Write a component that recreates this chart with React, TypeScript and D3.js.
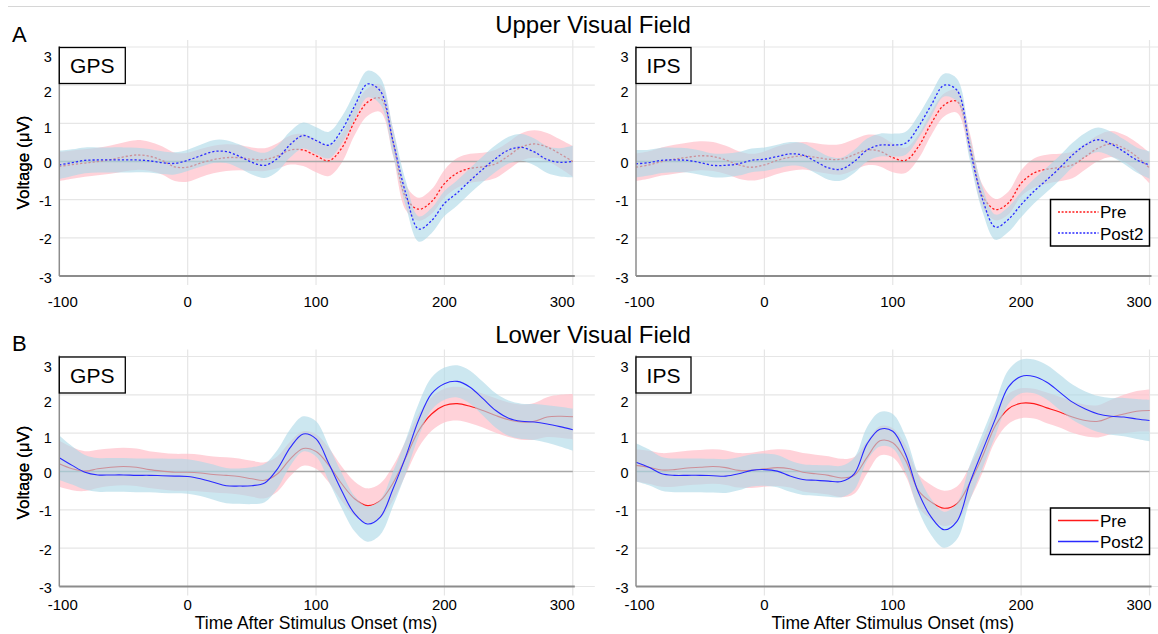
import React from "react";
import * as d3 from "d3";

// Sample times (ms after stimulus onset)
const TIMES = [
  -100, -90, -80, -70, -60, -50, -40, -30, -20, -10, 0, 10, 20, 30, 40, 50, 60, 70, 80, 90, 100,
  110, 120, 130, 140, 150, 160, 170, 180, 190, 200, 210, 220, 230, 240, 250, 260, 270, 280, 290, 300,
];
const X_TICKS = [-100, 0, 100, 200, 300];
const Y_TICKS = [-3, -2, -1, 0, 1, 2, 3];
const SERIES = ["Pre", "Post2"];

// Upper visual field, GPS
const UPPER_GPS_PRE = [-0.13, -0.08, -0.04, 0.0, 0.05, 0.12, 0.17, 0.14, 0.03, -0.14, -0.15, -0.04, 0.05, 0.1, 0.1, 0.06, 0.05, 0.15, 0.3, 0.3, 0.15, 0.02, 0.35, 1.05, 1.55, 1.66, 0.5, -0.95, -1.25, -1.05, -0.58, -0.3, -0.18, -0.14, -0.06, 0.15, 0.38, 0.46, 0.38, 0.2, 0.0];
const UPPER_GPS_PRE_SEM = [0.38, 0.37, 0.36, 0.36, 0.37, 0.38, 0.39, 0.38, 0.37, 0.37, 0.38, 0.37, 0.36, 0.35, 0.33, 0.31, 0.3, 0.33, 0.38, 0.42, 0.43, 0.4, 0.38, 0.36, 0.36, 0.36, 0.35, 0.33, 0.3, 0.32, 0.36, 0.39, 0.38, 0.37, 0.37, 0.36, 0.36, 0.36, 0.37, 0.38, 0.4];
const UPPER_GPS_POST2 = [-0.09, -0.03, 0.03, 0.04, 0.04, 0.04, 0.04, 0.02, -0.03, -0.05, 0.03, 0.15, 0.26, 0.26, 0.14, -0.02, -0.1, 0.08, 0.45, 0.68, 0.55, 0.43, 0.82, 1.45, 2.03, 1.85, 0.52, -0.85, -1.77, -1.55, -1.1, -0.82, -0.5, -0.2, 0.08, 0.3, 0.37, 0.25, 0.05, -0.02, 0.0];
const UPPER_GPS_POST2_SEM = [0.37, 0.35, 0.34, 0.33, 0.33, 0.33, 0.32, 0.31, 0.3, 0.29, 0.28, 0.29, 0.3, 0.3, 0.31, 0.32, 0.33, 0.34, 0.34, 0.34, 0.35, 0.35, 0.35, 0.35, 0.35, 0.35, 0.34, 0.33, 0.33, 0.33, 0.33, 0.33, 0.33, 0.34, 0.35, 0.35, 0.35, 0.35, 0.35, 0.37, 0.41];

// Upper visual field, IPS
const UPPER_IPS_PRE = [-0.15, -0.09, 0.0, 0.06, 0.11, 0.15, 0.13, 0.04, -0.09, -0.15, -0.09, 0.03, 0.11, 0.15, 0.11, 0.06, 0.06, 0.18, 0.3, 0.27, 0.1, 0.03, 0.39, 1.0, 1.48, 1.58, 0.45, -0.9, -1.26, -1.09, -0.57, -0.3, -0.2, -0.16, -0.09, 0.13, 0.35, 0.46, 0.35, 0.13, -0.17];
const UPPER_IPS_PRE_SEM = [0.36, 0.36, 0.37, 0.38, 0.38, 0.38, 0.38, 0.37, 0.36, 0.35, 0.35, 0.36, 0.36, 0.36, 0.37, 0.38, 0.4, 0.4, 0.4, 0.4, 0.38, 0.33, 0.32, 0.31, 0.3, 0.3, 0.3, 0.29, 0.28, 0.3, 0.34, 0.38, 0.38, 0.36, 0.35, 0.34, 0.34, 0.34, 0.35, 0.37, 0.4];
const UPPER_IPS_POST2 = [-0.06, -0.03, 0.03, 0.04, 0.03, -0.03, -0.1, -0.1, -0.06, 0.03, 0.06, 0.13, 0.2, 0.17, 0.0, -0.17, -0.2, 0.0, 0.3, 0.43, 0.43, 0.48, 0.91, 1.48, 2.0, 1.87, 0.35, -1.0, -1.72, -1.52, -1.13, -0.78, -0.48, -0.17, 0.17, 0.43, 0.57, 0.46, 0.26, 0.04, -0.09];
const UPPER_IPS_POST2_SEM = [0.36, 0.34, 0.33, 0.32, 0.32, 0.32, 0.31, 0.31, 0.31, 0.31, 0.31, 0.31, 0.31, 0.31, 0.31, 0.31, 0.3, 0.3, 0.3, 0.3, 0.3, 0.3, 0.3, 0.3, 0.3, 0.3, 0.31, 0.32, 0.33, 0.33, 0.33, 0.32, 0.32, 0.32, 0.32, 0.32, 0.32, 0.32, 0.32, 0.33, 0.36];

// Lower visual field, GPS
const LOWER_GPS_PRE = [0.2, 0.07, 0.01, 0.07, 0.11, 0.13, 0.11, 0.05, 0.01, -0.02, -0.02, -0.04, -0.08, -0.1, -0.13, -0.19, -0.23, -0.06, 0.33, 0.6, 0.52, 0.16, -0.32, -0.71, -0.89, -0.76, -0.3, 0.37, 1.07, 1.5, 1.72, 1.77, 1.7, 1.59, 1.46, 1.35, 1.29, 1.31, 1.42, 1.44, 1.43];
const LOWER_GPS_PRE_SEM = [0.6, 0.56, 0.52, 0.5, 0.49, 0.49, 0.49, 0.48, 0.48, 0.48, 0.48, 0.48, 0.47, 0.47, 0.47, 0.47, 0.47, 0.46, 0.45, 0.45, 0.45, 0.45, 0.45, 0.45, 0.45, 0.45, 0.45, 0.44, 0.44, 0.44, 0.44, 0.44, 0.44, 0.44, 0.45, 0.45, 0.46, 0.48, 0.52, 0.56, 0.59];
const LOWER_GPS_POST2 = [0.36, 0.16, -0.02, -0.09, -0.09, -0.09, -0.1, -0.1, -0.11, -0.12, -0.13, -0.19, -0.28, -0.37, -0.38, -0.37, -0.3, 0.07, 0.63, 0.98, 0.85, 0.2, -0.5, -1.1, -1.37, -1.19, -0.45, 0.4, 1.35, 2.03, 2.29, 2.35, 2.2, 1.9, 1.59, 1.39, 1.31, 1.29, 1.24, 1.17, 1.09];
const LOWER_GPS_POST2_SEM = [0.58, 0.5, 0.45, 0.44, 0.44, 0.44, 0.44, 0.44, 0.45, 0.45, 0.45, 0.45, 0.46, 0.46, 0.46, 0.48, 0.5, 0.5, 0.48, 0.46, 0.46, 0.46, 0.46, 0.46, 0.46, 0.46, 0.45, 0.44, 0.43, 0.42, 0.42, 0.42, 0.43, 0.44, 0.45, 0.46, 0.46, 0.47, 0.49, 0.52, 0.55];

// Lower visual field, IPS
const LOWER_IPS_PRE = [0.16, 0.11, 0.04, 0.05, 0.09, 0.11, 0.13, 0.1, 0.03, 0.03, 0.07, 0.1, 0.07, -0.02, -0.06, -0.1, -0.17, -0.1, 0.37, 0.8, 0.75, 0.29, -0.5, -0.8, -0.96, -0.84, -0.3, 0.4, 1.2, 1.63, 1.78, 1.77, 1.66, 1.55, 1.42, 1.33, 1.31, 1.42, 1.5, 1.57, 1.59];
const LOWER_IPS_PRE_SEM = [0.42, 0.43, 0.44, 0.45, 0.45, 0.45, 0.45, 0.45, 0.45, 0.46, 0.47, 0.48, 0.49, 0.5, 0.5, 0.5, 0.5, 0.48, 0.42, 0.38, 0.38, 0.4, 0.43, 0.45, 0.46, 0.45, 0.44, 0.42, 0.4, 0.39, 0.39, 0.39, 0.4, 0.4, 0.41, 0.41, 0.42, 0.45, 0.5, 0.53, 0.55];
const LOWER_IPS_POST2 = [0.24, 0.11, -0.06, -0.1, -0.1, -0.1, -0.11, -0.12, -0.06, 0.03, 0.05, 0.01, -0.12, -0.21, -0.23, -0.25, -0.26, -0.06, 0.72, 1.1, 1.05, 0.45, -0.55, -1.19, -1.52, -1.3, -0.3, 0.55, 1.38, 2.2, 2.48, 2.48, 2.33, 2.07, 1.81, 1.63, 1.5, 1.44, 1.42, 1.37, 1.33];
const LOWER_IPS_POST2_SEM = [0.5, 0.47, 0.44, 0.44, 0.44, 0.44, 0.44, 0.44, 0.43, 0.42, 0.42, 0.42, 0.41, 0.4, 0.4, 0.41, 0.41, 0.42, 0.44, 0.45, 0.45, 0.46, 0.46, 0.47, 0.47, 0.47, 0.46, 0.45, 0.44, 0.44, 0.44, 0.44, 0.45, 0.46, 0.46, 0.46, 0.47, 0.48, 0.5, 0.52, 0.54];

const W = 1158;
const H = 634;
const FONT = "'Liberation Sans', Arial, Helvetica, sans-serif";
const PRE_COLOR = "#ff1a1a";
const POST_COLOR = "#2a2aff";
const PRE_BAND = "#ffc0cb";
const POST_BAND = "#add8e6";

type Legend = { x: number; y: number };
type PanelProps = {
  region: string;
  pre: number[];
  preSem: number[];
  post: number[];
  postSem: number[];
  x0: number;
  yTop: number;
  yBottom: number;
  dotted: boolean;
  boxW: number;
  tickBaseline: number;
  xTitleBaseline?: number;
  legend?: Legend;
};

const PLOT_W = 513.5;
const GRID_EXTRA = 22;

function Panel(p: PanelProps) {
  const x = d3.scaleLinear().domain([-100, 300]).range([p.x0, p.x0 + PLOT_W]);
  const y = d3.scaleLinear().domain([-3, 3]).range([p.yBottom, p.yTop]);
  const idx = TIMES.map((_, i) => i);
  const curve = d3.curveCatmullRom.alpha(0.5);
  const linePath = (v: number[]) =>
    d3.line<number>().x((i) => x(TIMES[i])).y((i) => y(v[i])).curve(curve)(idx) || "";
  const areaPath = (v: number[], s: number[]) =>
    d3
      .area<number>()
      .x((i) => x(TIMES[i]))
      .y0((i) => y(v[i] - s[i]))
      .y1((i) => y(v[i] + s[i]))
      .curve(curve)(idx) || "";
  const dash = p.dotted ? "2.2 2" : undefined;
  const lw = p.dotted ? 1.3 : 1.1;
  const xEnd = x(300);
  const lastTick = X_TICKS[X_TICKS.length - 1];
  const firstTick = X_TICKS[0];

  return (
    <g>
      {/* grid */}
      {Y_TICKS.map((t) => (
        <line key={"h" + t} x1={p.x0} x2={xEnd + GRID_EXTRA} y1={y(t)} y2={y(t)} stroke="#e6e6e6" strokeWidth={1.2} />
      ))}
      {X_TICKS.filter((t) => t !== firstTick).map((t) => (
        <line key={"v" + t} x1={x(t)} x2={x(t)} y1={p.yTop - 7} y2={p.yBottom + 9} stroke="#e6e6e6" strokeWidth={1.2} />
      ))}

      {/* confidence bands and means */}
      <path d={areaPath(p.pre, p.preSem)} fill={PRE_BAND} fillOpacity={0.72} />
      <line x1={p.x0} x2={xEnd} y1={y(0)} y2={y(0)} stroke="#a8a8a8" strokeWidth={1.5} />
      <path d={linePath(p.pre)} fill="none" stroke={PRE_COLOR} strokeWidth={lw} strokeDasharray={dash} />
      <path d={areaPath(p.post, p.postSem)} fill={POST_BAND} fillOpacity={0.62} />
      <path d={linePath(p.post)} fill="none" stroke={POST_COLOR} strokeWidth={lw} strokeDasharray={dash} />

      {/* axes */}
      <line x1={p.x0} x2={p.x0} y1={p.yTop - 1} y2={p.yBottom} stroke="#8c8c8c" strokeWidth={1.5} />
      <line x1={p.x0} x2={xEnd + 2} y1={p.yBottom} y2={p.yBottom} stroke="#8c8c8c" strokeWidth={2} />

      {Y_TICKS.map((t) => (
        <text
          key={"yl" + t}
          x={p.x0 - 7.5}
          y={y(t) + 1.5 + Math.max(0, t) * 2.9}
          textAnchor="end"
          dominantBaseline="central"
          fontSize={14.5}
          fontFamily={FONT}
          fill="#000"
        >
          {t}
        </text>
      ))}
      {X_TICKS.map((t) => {
        // edge labels are kept inside the axis span
        const isLast = t === lastTick;
        const isFirst = t === firstTick;
        return (
          <text
            key={"xl" + t}
            x={isLast ? x(t) + 2 : isFirst ? x(t) + 3.5 : x(t)}
            y={p.tickBaseline}
            textAnchor={isLast ? "end" : "middle"}
            fontSize={15}
            fontFamily={FONT}
            fill="#000"
          >
            {t}
          </text>
        );
      })}

      {/* region label box */}
      <rect x={p.x0} y={p.yTop + 0.5} width={p.boxW} height={36} fill="#fff" stroke="#000" strokeWidth={1.3} />
      <text x={p.x0 + p.boxW / 2} y={p.yTop + 26} textAnchor="middle" fontSize={21} fontFamily={FONT} fill="#000">
        {p.region}
      </text>

      <text
        transform={`translate(23, ${y(0) + 1}) rotate(-90)`}
        textAnchor="middle"
        dominantBaseline="central"
        fontSize={17}
        fontFamily={FONT}
        fill="#000"
      >
        Voltage (μV)
      </text>

      {p.xTitleBaseline !== undefined && (
        <text x={x(100)} y={p.xTitleBaseline} textAnchor="middle" fontSize={17.5} fontFamily={FONT} fill="#000">
          Time After Stimulus Onset (ms)
        </text>
      )}

      {p.legend && (
        <g transform={`translate(${p.legend.x}, ${p.legend.y})`}>
          <rect x={0} y={0} width={99} height={46.5} fill="#fff" stroke="#000" strokeWidth={1.5} />
          {SERIES.map((name, i) => (
            <g key={name}>
              <line
                x1={7.5}
                x2={48}
                y1={12.5 + i * 21}
                y2={12.5 + i * 21}
                stroke={i === 0 ? PRE_COLOR : POST_COLOR}
                strokeWidth={p.dotted ? 1.6 : 1.4}
                strokeDasharray={p.dotted ? "2 1.6" : undefined}
              />
              <text x={49.5} y={18.5 + i * 21.5} fontSize={17} fontFamily={FONT} fill="#000">
                {name}
              </text>
            </g>
          ))}
        </g>
      )}
    </g>
  );
}

const LEFT_X0 = 59.3;
const RIGHT_X0 = 636;
const ROW_A = { yTop: 47, yBottom: 276 };
const ROW_B = { yTop: 356.5, yBottom: 586.5 };

export default function App() {
  return (
    <svg
      width={W}
      height={H}
      viewBox={`0 0 ${W} ${H}`}
      style={{ position: "absolute", left: 0, top: 0, background: "#fff" }}
    >
      <rect x={0} y={0} width={W} height={H} fill="#fff" />
      <line x1={8} x2={1150} y1={6.5} y2={6.5} stroke="#d6d6d6" strokeWidth={1.2} />

      <text x={12} y={41.5} fontSize={22} fontFamily={FONT} fill="#000">A</text>
      <text x={593} y={33} textAnchor="middle" fontSize={24} fontFamily={FONT} fill="#000">
        Upper Visual Field
      </text>
      <text x={12} y={351} fontSize={22} fontFamily={FONT} fill="#000">B</text>
      <text x={593} y={343} textAnchor="middle" fontSize={24} fontFamily={FONT} fill="#000">
        Lower Visual Field
      </text>

      <Panel
        region="GPS"
        pre={UPPER_GPS_PRE}
        preSem={UPPER_GPS_PRE_SEM}
        post={UPPER_GPS_POST2}
        postSem={UPPER_GPS_POST2_SEM}
        x0={LEFT_X0}
        {...ROW_A}
        dotted={true}
        boxW={66}
        tickBaseline={306.5}
      />
      <Panel
        region="IPS"
        pre={UPPER_IPS_PRE}
        preSem={UPPER_IPS_PRE_SEM}
        post={UPPER_IPS_POST2}
        postSem={UPPER_IPS_POST2_SEM}
        x0={RIGHT_X0}
        {...ROW_A}
        dotted={true}
        boxW={55}
        tickBaseline={306.5}
        legend={{ x: 1050.5, y: 199.5 }}
      />
      <Panel
        region="GPS"
        pre={LOWER_GPS_PRE}
        preSem={LOWER_GPS_PRE_SEM}
        post={LOWER_GPS_POST2}
        postSem={LOWER_GPS_POST2_SEM}
        x0={LEFT_X0}
        {...ROW_B}
        dotted={false}
        boxW={66}
        tickBaseline={610}
        xTitleBaseline={629}
      />
      <Panel
        region="IPS"
        pre={LOWER_IPS_PRE}
        preSem={LOWER_IPS_PRE_SEM}
        post={LOWER_IPS_POST2}
        postSem={LOWER_IPS_POST2_SEM}
        x0={RIGHT_X0}
        {...ROW_B}
        dotted={false}
        boxW={55}
        tickBaseline={610}
        xTitleBaseline={629}
        legend={{ x: 1050.5, y: 508 }}
      />
    </svg>
  );
}
